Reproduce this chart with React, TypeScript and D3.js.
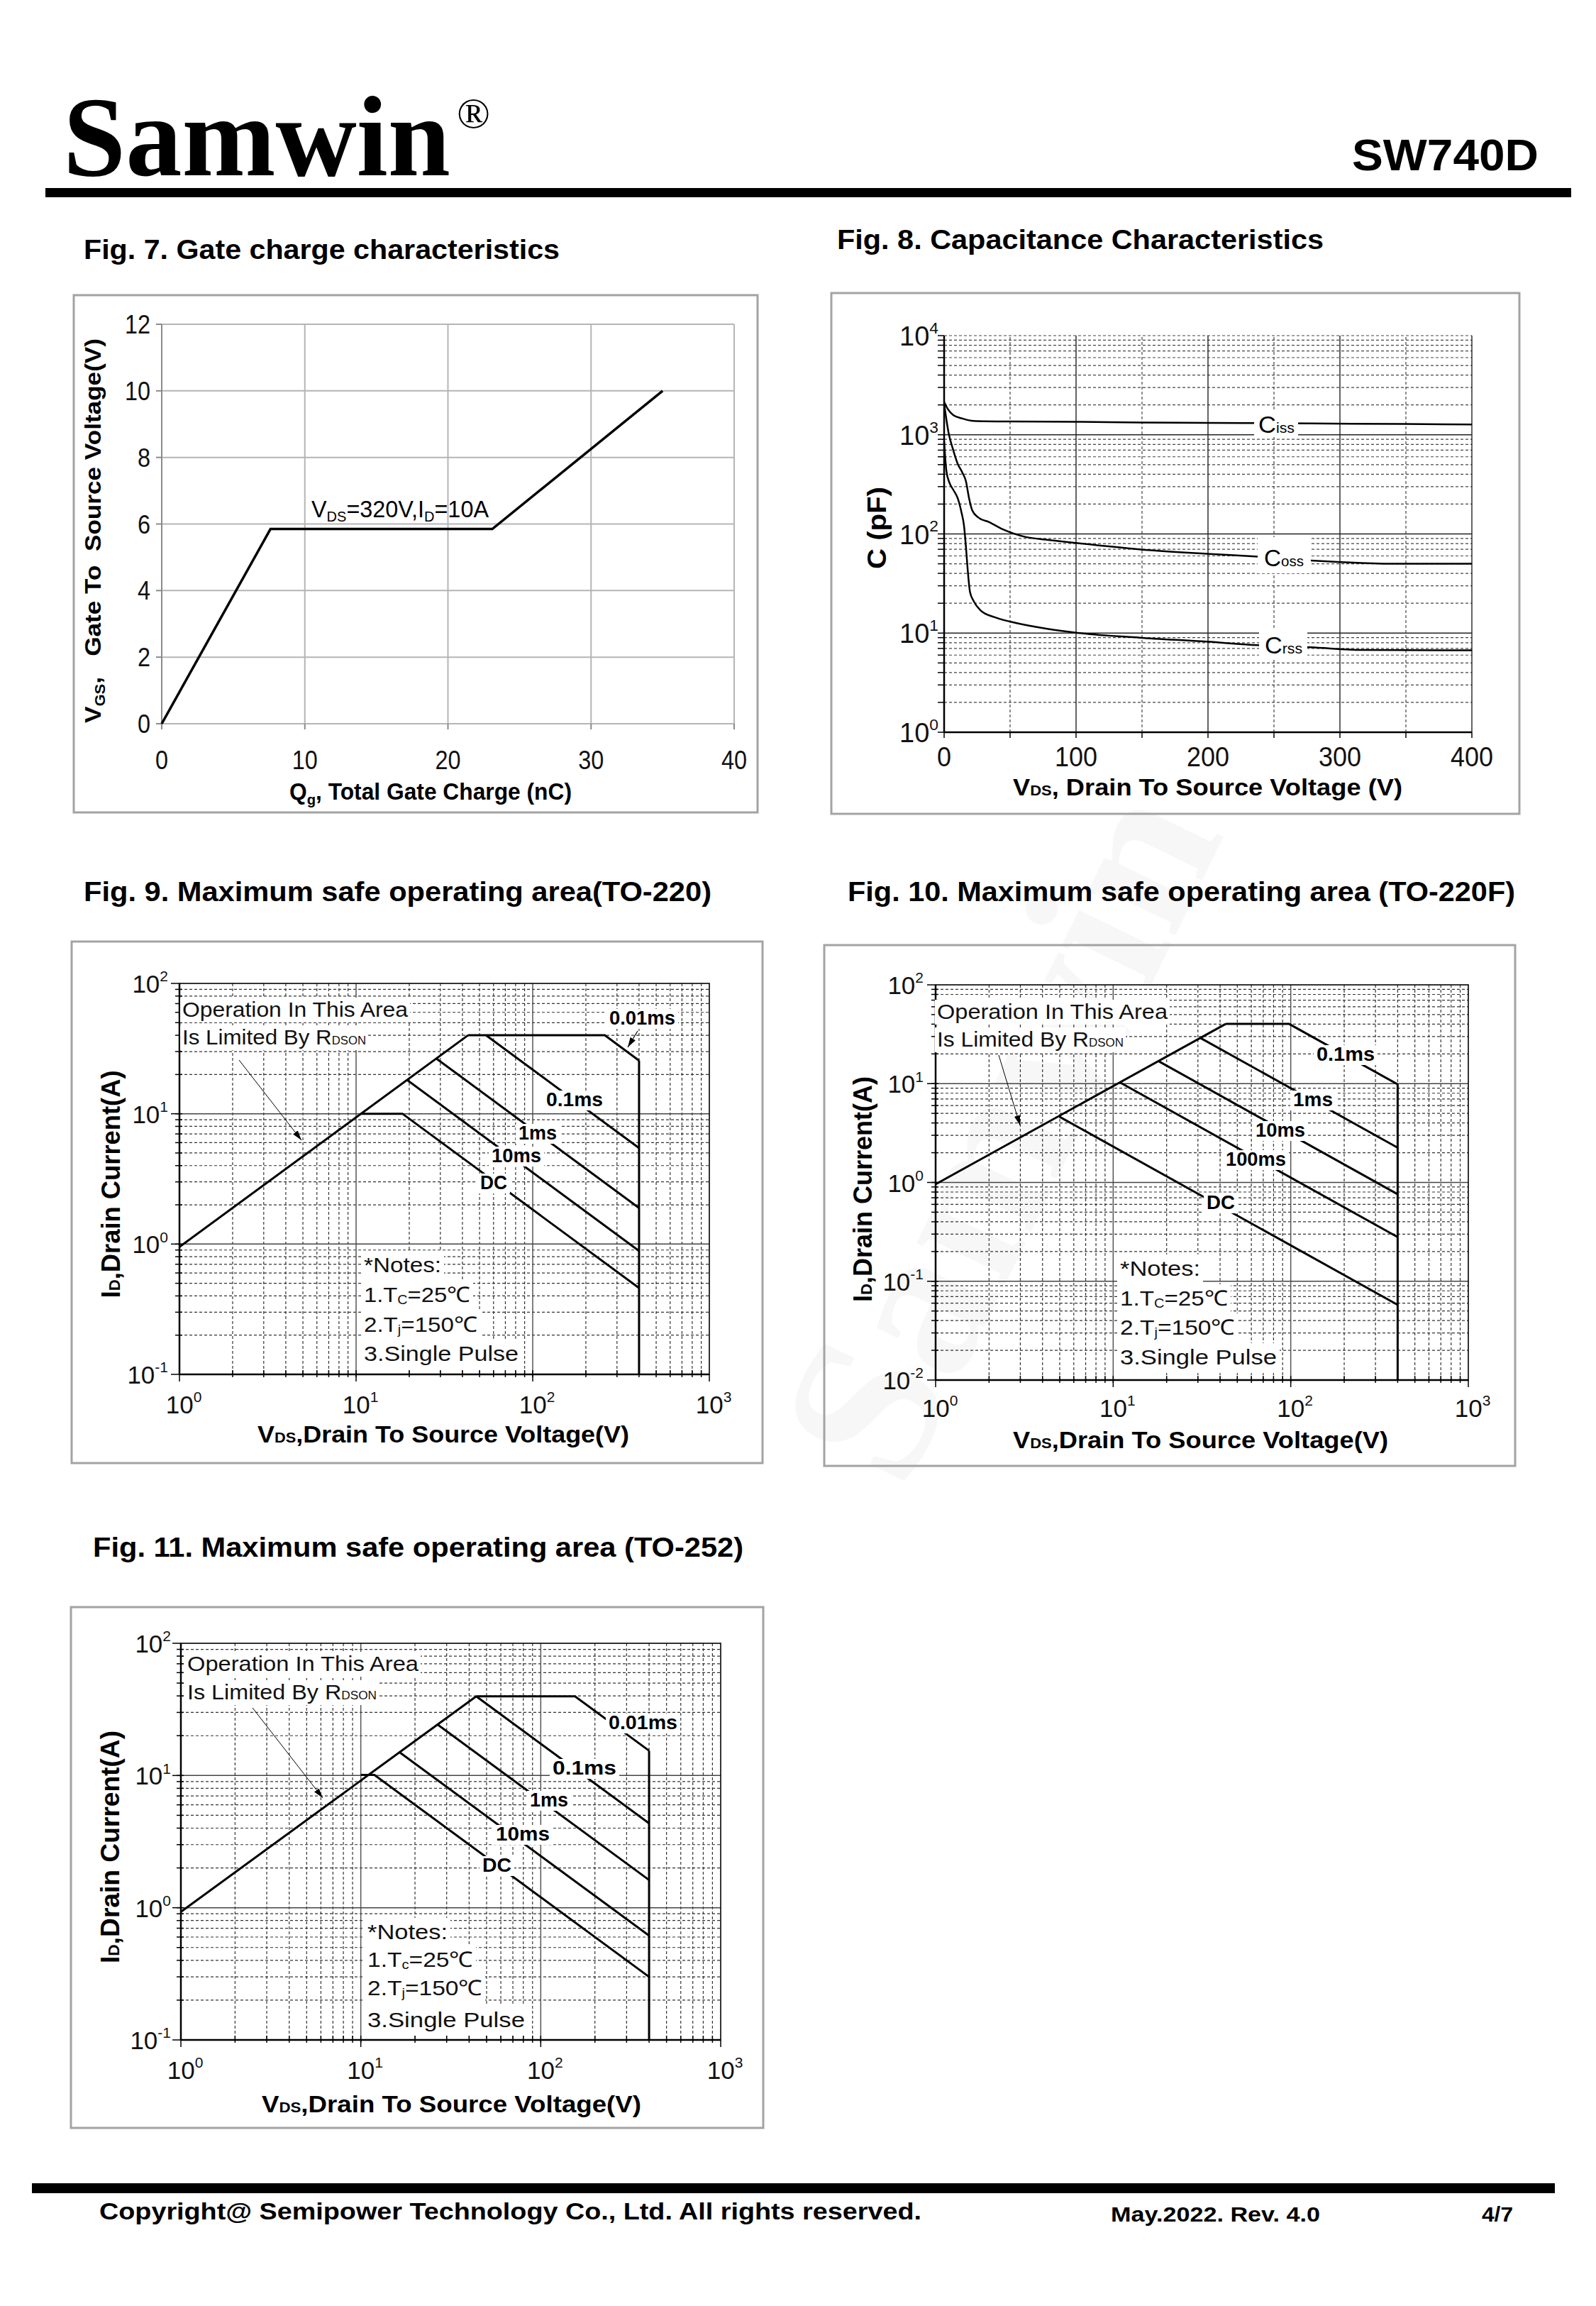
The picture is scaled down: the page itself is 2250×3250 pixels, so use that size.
import React from "react";
import * as d3 from "d3";

type P = [number, number];

const SANS = "'Liberation Sans', Arial, Helvetica, sans-serif";
const SERIF = "'Liberation Serif', 'Times New Roman', serif";

// ---------------- Fig. 7 : gate charge ----------------
const gateChargeQ = [0, 7.6, 23.1, 35];
const gateChargeV = [0, 5.85, 5.85, 10];
const fig7XTicks = [0, 10, 20, 30, 40];
const fig7YTicks = [0, 2, 4, 6, 8, 10, 12];

// ---------------- Fig. 8 : capacitance ----------------
const cissV = [0, 2.75, 6.9, 13.8, 22.4, 50, 100, 150, 200, 238, 278, 348, 400];
const cissC = [2140, 1820, 1580, 1460, 1380, 1360, 1350, 1330, 1320, 1310, 1300, 1285, 1270];
const cossV = [0, 3.4, 6.9, 10.3, 13.8, 16.5, 18.9, 21.3, 25.8, 34.4, 44.7, 62, 79, 100, 148, 199, 238, 278, 348, 400];
const cossC = [2056, 1043, 700, 509, 416, 341, 229, 173, 147, 131, 111, 93, 87, 81, 70, 63, 59, 54, 50, 50];
const crssV = [0, 1.7, 4.1, 6.9, 10.3, 13.1, 15.1, 16.5, 17.9, 19.6, 22.4, 27.5, 37.9, 51.6, 79, 100, 148, 199, 238, 278, 317, 400];
const crssC = [860, 433, 327, 279, 229, 166, 120, 75, 43, 26, 21, 17, 14.5, 12.9, 11, 10.1, 9.0, 8.2, 7.55, 7.2, 6.75, 6.7];
const fig8XTicks = [0, 100, 200, 300, 400];
const fig8XMinor = [50, 150, 250, 350];
const fig8YExp = [0, 1, 2, 3, 4];

// ---------------- Fig. 9 : SOA TO-220 ----------------
const fig9Rdson: P[] = [[1, 0.95], [43, 40]];
const fig9Ms001: P[] = [[43, 40], [256, 40], [400, 25.6]];
const fig9Ms01: P[] = [[54.7, 39.8], [400, 5.45]];
const fig9Ms1: P[] = [[28.5, 26.5], [400, 1.89]];
const fig9Ms10: P[] = [[19.4, 18.2], [400, 0.885]];
const fig9DC: P[] = [[10.7, 10], [18.3, 10], [400, 0.46]];
const fig9Limit: P[] = [[400, 25.6], [400, 0.1]];
const fig9Labels = ["0.01ms", "0.1ms", "1ms", "10ms", "DC"];

// ---------------- Fig. 10 : SOA TO-220F ----------------
const fig10Rdson: P[] = [[1, 0.96], [43, 40.2]];
const fig10Ms01: P[] = [[43, 40.2], [97.9, 40.2], [400, 9.84]];
const fig10Ms1: P[] = [[31, 29], [400, 2.25]];
const fig10Ms10: P[] = [[18.1, 16.8], [400, 0.76]];
const fig10Ms100: P[] = [[11, 10.2], [400, 0.28]];
const fig10DC: P[] = [[4.98, 4.63], [400, 0.0577]];
const fig10Limit: P[] = [[400, 9.84], [400, 0.01]];
const fig10Labels = ["0.1ms", "1ms", "10ms", "100ms", "DC"];

// ---------------- Fig. 11 : SOA TO-252 ----------------
const fig11Rdson: P[] = [[1, 0.93], [43.8, 39.7]];
const fig11Ms001: P[] = [[43.8, 39.7], [155, 39.7], [400, 15.4]];
const fig11Ms01: P[] = [[43.8, 39.7], [400, 4.35]];
const fig11Ms1: P[] = [[26.7, 24.3], [400, 1.62]];
const fig11Ms10: P[] = [[16.3, 15.1], [400, 0.615]];
const fig11DC: P[] = [[10, 10.1], [11.9, 10.1], [400, 0.3]];
const fig11Limit: P[] = [[400, 15.4], [400, 0.1]];
const fig11Labels = ["0.01ms", "0.1ms", "1ms", "10ms", "DC"];

const noteLines = ["*Notes:", "1.T", "2.T", "3.Single Pulse"];

function minors(lo: number, hi: number) {
  const out: number[] = [];
  for (let e = lo; e < hi; e++) for (let m = 2; m <= 9; m++) out.push(m * Math.pow(10, e));
  return out;
}

function T(props: any) {
  const { x, y, size, w, bold, anchor, children, rot, fill, family } = props;
  const tr = rot ? `translate(${x},${y}) rotate(${rot})` : undefined;
  return (
    <text
      x={rot ? 0 : x}
      y={rot ? 0 : y}
      transform={tr}
      fontSize={size}
      fontFamily={family || SANS}
      fontWeight={bold ? "bold" : "normal"}
      textAnchor={anchor || "start"}
      textLength={w}
      lengthAdjust={w ? "spacingAndGlyphs" : undefined}
      fill={fill || "#000"}
      style={{ whiteSpace: "pre" }}
    >
      {children}
    </text>
  );
}

function Pow({ x, y, exp, anchor, size }: any) {
  return (
    <text x={x} y={y} fontSize={size} textAnchor={anchor} fontFamily={SANS} fill="#111">
      10<tspan dy={-size * 0.45} fontSize={size * 0.6}>{exp}</tspan>
    </text>
  );
}

function Fig7() {
  const x = d3.scaleLinear().domain([0, 40]).range([228, 1035]);
  const y = d3.scaleLinear().domain([0, 12]).range([1020, 457]);
  const line = d3
    .line<number>()
    .x((d) => x(d))
    .y((_, i) => y(gateChargeV[i]));
  const grid = "#b5b5b5";
  return (
    <g>
      <rect x={104} y={416} width={964} height={729} fill="none" stroke="#a3a3a3" strokeWidth={3} />
      {fig7XTicks.filter((v) => v > 0).map((v) => (
        <line key={"gx" + v} x1={x(v)} x2={x(v)} y1={y(0)} y2={y(12)} stroke={grid} strokeWidth={2} />
      ))}
      {fig7YTicks.map((v) => (
        <line key={"gy" + v} x1={x(0)} x2={x(40)} y1={y(v)} y2={y(v)} stroke={grid} strokeWidth={2} />
      ))}
      <line x1={x(0)} x2={x(0)} y1={y(0)} y2={y(12)} stroke="#8a8a8a" strokeWidth={2} />
      {fig7YTicks.map((v) => (
        <line key={"ty" + v} x1={x(0) - 8} x2={x(0)} y1={y(v)} y2={y(v)} stroke="#8a8a8a" strokeWidth={2} />
      ))}
      {fig7XTicks.map((v) => (
        <line key={"tx" + v} x1={x(v)} x2={x(v)} y1={y(0)} y2={y(0) + 8} stroke="#8a8a8a" strokeWidth={2} />
      ))}
      <path d={line(gateChargeQ) || ""} fill="none" stroke="#000" strokeWidth={3.5} strokeLinejoin="miter" />
      {fig7YTicks.map((v) => (
        <T key={"ly" + v} x={212} y={y(v) + 13} size={37} anchor="end" fill="#111" w={String(v).length * 18}>{String(v)}</T>
      ))}
      {fig7XTicks.map((v) => (
        <T key={"lx" + v} x={x(v)} y={1084} size={37} anchor="middle" fill="#111" w={String(v).length * 18}>{String(v)}</T>
      ))}
      <T x={439} y={729} size={34} w={250}>
        V<tspan fontSize={21} dy={6}>DS</tspan>
        <tspan dy={-6}>=320V,I</tspan>
        <tspan fontSize={21} dy={6}>D</tspan>
        <tspan dy={-6}>=10A</tspan>
      </T>
      <T x={408} y={1127} size={33} bold w={398}>
        Q<tspan fontSize={21} dy={7}>g</tspan>
        <tspan dy={-7}>, Total Gate Charge (nC)</tspan>
      </T>
      <T x={142} y={748} rot={-90} size={32} bold anchor="middle" w={542}>
        V<tspan fontSize={20} dy={6}>GS</tspan>
        <tspan dy={-6}>{",   Gate To  Source Voltage(V)"}</tspan>
      </T>
    </g>
  );
}

function Fig8() {
  const x = d3.scaleLinear().domain([0, 400]).range([1331, 2075]);
  const y = d3.scaleLog().domain([1, 1e4]).range([1032, 473]);
  const mk = (vs: number[], cs: number[]) =>
    d3
      .line<number>()
      .x((d) => x(d))
      .y((_, i) => y(cs[i]))
      .curve(d3.curveMonotoneX)(vs) || "";
  const yMin = minors(0, 4);
  const dash = "4 3";
  return (
    <g>
      <rect x={1172} y={413} width={970} height={734} fill="none" stroke="#a3a3a3" strokeWidth={3} />
      {yMin.map((v) => (
        <line key={"m" + v} x1={x(0)} x2={x(400)} y1={y(v)} y2={y(v)} stroke="#444" strokeWidth={1.2} strokeDasharray={dash} />
      ))}
      <line x1={x(0)} x2={x(400)} y1={y(1e4)} y2={y(1e4)} stroke="#444" strokeWidth={1.2} strokeDasharray={dash} />
      {[10, 100, 1000].map((v) => (
        <line key={"M" + v} x1={x(0)} x2={x(400)} y1={y(v)} y2={y(v)} stroke="#222" strokeWidth={1.4} />
      ))}
      {fig8XMinor.map((v) => (
        <line key={"vx" + v} x1={x(v)} x2={x(v)} y1={y(1)} y2={y(1e4)} stroke="#444" strokeWidth={1.2} strokeDasharray={dash} />
      ))}
      {fig8XTicks.filter((v) => v > 0).map((v) => (
        <line key={"vX" + v} x1={x(v)} x2={x(v)} y1={y(1)} y2={y(1e4)} stroke="#222" strokeWidth={1.4} />
      ))}
      <line x1={x(0)} x2={x(0)} y1={y(1)} y2={y(1e4)} stroke="#000" strokeWidth={2.5} />
      <line x1={x(0)} x2={x(400)} y1={y(1)} y2={y(1)} stroke="#000" strokeWidth={2.5} />
      {[...yMin, 10, 100, 1000, 1, 1e4].map((v) => (
        <line key={"t" + v} x1={x(0) - 9} x2={x(0)} y1={y(v)} y2={y(v)} stroke="#000" strokeWidth={1.5} />
      ))}
      {[...fig8XTicks, ...fig8XMinor].map((v) => (
        <line key={"tx" + v} x1={x(v)} x2={x(v)} y1={y(1)} y2={y(1) + 8} stroke="#000" strokeWidth={1.5} />
      ))}
      <path d={mk(cissV, cissC)} fill="none" stroke="#000" strokeWidth={2.5} />
      <path d={mk(cossV, cossC)} fill="none" stroke="#000" strokeWidth={2.5} />
      <path d={mk(crssV, crssC)} fill="none" stroke="#000" strokeWidth={2.5} />
      <rect x={1768} y={580} width={62} height={36} fill="#fff" />
      <rect x={1773} y={757} width={75} height={51} fill="#fff" />
      <rect x={1775} y={886} width={68} height={44} fill="#fff" />
      <T x={1774} y={610} size={34} w={51}>C<tspan fontSize={21}>iss</tspan></T>
      <T x={1782} y={798} size={34} w={56}>C<tspan fontSize={21}>oss</tspan></T>
      <T x={1783} y={921} size={34} w={53}>C<tspan fontSize={21}>rss</tspan></T>
      {fig8YExp.map((e) => (
        <Pow key={"py" + e} x={1323} y={y(Math.pow(10, e)) + 14} exp={String(e)} anchor="end" size={38} />
      ))}
      {fig8XTicks.map((v) => (
        <T key={"lx" + v} x={x(v)} y={1080} size={38} anchor="middle" fill="#111" w={String(v).length * 20}>{String(v)}</T>
      ))}
      <T x={1428} y={1121} size={33} bold w={549}>
        V<tspan fontSize={20}>DS</tspan>
        <tspan>, Drain To Source Voltage (V)</tspan>
      </T>
      <T x={1249} y={744} rot={-90} size={37} bold anchor="middle" w={116}>C (pF)</T>
    </g>
  );
}

function SOA(p: any) {
  const [l, t, r, b] = p.plot;
  const xs = d3.scaleLog().domain([1, 1000]).range([l, r]);
  const ys = d3.scaleLog().domain([Math.pow(10, p.yLo), Math.pow(10, p.yHi)]).range([b, t]);
  const line = d3
    .line<P>()
    .x((d) => xs(d[0]))
    .y((d) => ys(d[1]));
  const xMin = minors(0, 3);
  const yMin = minors(p.yLo, p.yHi);
  const xMaj = [10, 100];
  const yMaj = d3.range(p.yLo + 1, p.yHi).map((e) => Math.pow(10, e));
  const xExp = [0, 1, 2, 3];
  const yExp = d3.range(p.yLo, p.yHi + 1);
  const dash = "4 3";
  const [fx0, fy0, fx1, fy1] = p.frame;
  return (
    <g>
      <rect x={fx0} y={fy0} width={fx1 - fx0} height={fy1 - fy0} fill="none" stroke="#a3a3a3" strokeWidth={3} />
      {xMin.map((v) => (
        <line key={"xm" + v} x1={xs(v)} x2={xs(v)} y1={t} y2={b} stroke="#333" strokeWidth={1.2} strokeDasharray={dash} />
      ))}
      {yMin.map((v) => (
        <line key={"ym" + v} x1={l} x2={r} y1={ys(v)} y2={ys(v)} stroke="#333" strokeWidth={1.2} strokeDasharray={dash} />
      ))}
      {xMaj.map((v) => (
        <line key={"xM" + v} x1={xs(v)} x2={xs(v)} y1={t} y2={b} stroke="#555" strokeWidth={1.5} />
      ))}
      {yMaj.map((v) => (
        <line key={"yM" + v} x1={l} x2={r} y1={ys(v)} y2={ys(v)} stroke="#444" strokeWidth={1.5} />
      ))}
      <rect x={l} y={t} width={r - l} height={b - t} fill="none" stroke="#000" strokeWidth={1.6} />
      <line x1={l} x2={l} y1={t} y2={b} stroke="#000" strokeWidth={2.5} />
      <line x1={l} x2={r} y1={b} y2={b} stroke="#000" strokeWidth={2.5} />
      {[...yMin, ...yMaj].map((v) => (
        <line key={"ty" + v} x1={l - 6} x2={l + 4} y1={ys(v)} y2={ys(v)} stroke="#000" strokeWidth={1.5} />
      ))}
      {yExp.map((e) => (
        <line key={"tY" + e} x1={l - 12} x2={l} y1={ys(Math.pow(10, e))} y2={ys(Math.pow(10, e))} stroke="#000" strokeWidth={1.5} />
      ))}
      {[...xMin, ...xMaj].map((v) => (
        <line key={"tx" + v} x1={xs(v)} x2={xs(v)} y1={b - 6} y2={b + 4} stroke="#000" strokeWidth={1.5} />
      ))}
      {xExp.map((e) => (
        <line key={"tX" + e} x1={xs(Math.pow(10, e))} x2={xs(Math.pow(10, e))} y1={b} y2={b + 10} stroke="#000" strokeWidth={1.5} />
      ))}
      {p.series.map((s: P[], i: number) => (
        <path key={"s" + i} d={line(s) || ""} fill="none" stroke="#000" strokeWidth={3} strokeLinejoin="miter" />
      ))}
      {/* RDSON annotation */}
      <rect x={p.rdsonX - 3} y={p.rdsonY1 - 27} width={p.rdsonW1 + 6} height={35} fill="#fff" />
      <rect x={p.rdsonX - 3} y={p.rdsonY2 - 27} width={p.rdsonW2 + 6} height={35} fill="#fff" />
      <T x={p.rdsonX} y={p.rdsonY1} size={30} w={p.rdsonW1} fill="#111">Operation In This Area</T>
      <T x={p.rdsonX} y={p.rdsonY2} size={30} w={p.rdsonW2} fill="#111">
        Is Limited By R<tspan fontSize={16}>DSON</tspan>
      </T>
      <line x1={p.rdsonArrow[0]} y1={p.rdsonArrow[1]} x2={p.rdsonArrow[2]} y2={p.rdsonArrow[3]} stroke="#000" strokeWidth={1} markerEnd="url(#arr)" />
      {p.arrow01 ? (
        <line x1={p.arrow01[0]} y1={p.arrow01[1]} x2={p.arrow01[2]} y2={p.arrow01[3]} stroke="#000" strokeWidth={1.2} markerEnd="url(#arr)" />
      ) : null}
      {/* curve labels */}
      {p.labels.map((lb: any, i: number) => (
        <rect key={"lr" + i} x={lb.x - 4} y={lb.y - 22} width={lb.w + 8} height={28} fill="#fff" />
      ))}
      {p.labels.map((lb: any, i: number) => (
        <T key={"lt" + i} x={lb.x} y={lb.y} size={27} bold w={lb.w}>{p.labelText[i]}</T>
      ))}
      {/* notes */}
      {p.notesY.map((ny: number, i: number) => (
        <rect key={"nr" + i} x={p.notesX - 4} y={ny - 30} width={p.notesW[i] + 8} height={42} fill="#fff" />
      ))}
      <T x={p.notesX} y={p.notesY[0]} size={30} w={p.notesW[0]} fill="#111">{noteLines[0]}</T>
      <T x={p.notesX} y={p.notesY[1]} size={30} w={p.notesW[1]} fill="#111">
        {noteLines[1]}<tspan fontSize={18} dy={3}>{p.tcSub}</tspan>
        <tspan dy={-3}>=25℃</tspan>
      </T>
      <T x={p.notesX} y={p.notesY[2]} size={30} w={p.notesW[2]} fill="#111">
        {noteLines[2]}<tspan fontSize={18} dy={3}>j</tspan>
        <tspan dy={-3}>=150℃</tspan>
      </T>
      <T x={p.notesX} y={p.notesY[3]} size={30} w={p.notesW[3]} fill="#111">{noteLines[3]}</T>
      {/* tick labels */}
      {yExp.map((e) => (
        <Pow key={"py" + e} x={p.yLabelRight} y={ys(Math.pow(10, e)) + 13} exp={String(e)} anchor="end" size={35} />
      ))}
      {xExp.map((e) => (
        <Pow key={"px" + e} x={xs(Math.pow(10, e)) + 6} y={p.xLabelBase} exp={String(e)} anchor="middle" size={35} />
      ))}
      <T x={p.xTitle.x} y={p.xTitle.y} size={33} bold w={p.xTitle.w}>
        V<tspan fontSize={20}>DS</tspan>
        <tspan>,Drain To Source Voltage(V)</tspan>
      </T>
      <T x={p.yTitle.x} y={p.yTitle.y} rot={-90} size={36} bold anchor="middle" w={p.yTitle.w}>
        I<tspan fontSize={22}>D</tspan>
        <tspan>,Drain Current(A)</tspan>
      </T>
    </g>
  );
}

export default function App() {
  return (
    <svg
      width={2250}
      height={3250}
      viewBox="0 0 2250 3250"
      style={{ position: "absolute", left: 0, top: 0, display: "block" }}
      fontFamily={SANS}
    >
      <defs>
        <marker id="arr" viewBox="0 0 10 10" refX="10" refY="5" markerWidth="14" markerHeight="14" markerUnits="userSpaceOnUse" orient="auto">
          <path d="M0,2 L10,5 L0,8 z" fill="#000" />
        </marker>
      </defs>
      <rect x={0} y={0} width={2250} height={3250} fill="#fff" />
      {/* faint watermark */}
      <T x={1500} y={1640} rot={-64} size={300} bold anchor="middle" family={SERIF} fill="#f7f7f7">Samwin</T>

      {/* header */}
      <T x={89} y={247} size={160} bold family={SERIF} w={546}>Samwin</T>
      <T x={644} y={180} size={62} family={SERIF}>®</T>
      <T x={1906} y={240} size={63} bold w={263}>SW740D</T>
      <rect x={64} y={265} width={2151} height={13} fill="#000" />

      {/* titles */}
      <T x={118} y={365} size={39} bold w={671}>Fig. 7. Gate charge characteristics</T>
      <T x={1180} y={351} size={39} bold w={686}>Fig. 8. Capacitance Characteristics</T>
      <T x={118} y={1270} size={39} bold w={885}>Fig. 9. Maximum safe operating area(TO-220)</T>
      <T x={1195} y={1270} size={39} bold w={941}>Fig. 10. Maximum safe operating area (TO-220F)</T>
      <T x={131} y={2194} size={39} bold w={917}>Fig. 11. Maximum safe operating area (TO-252)</T>

      <Fig7 />
      <Fig8 />

      <SOA
        frame={[101, 1327, 1075, 2062]}
        plot={[253, 1386, 1000, 1937]}
        yLo={-1}
        yHi={2}
        series={[fig9Rdson, fig9Ms001, fig9Ms01, fig9Ms1, fig9Ms10, fig9DC, fig9Limit]}
        labelText={fig9Labels}
        labels={[
          { x: 859, y: 1444, w: 93 },
          { x: 770, y: 1559, w: 80 },
          { x: 731, y: 1606, w: 54 },
          { x: 693, y: 1638, w: 70 },
          { x: 677, y: 1676, w: 38 },
        ]}
        arrow01={[899, 1453, 885, 1476]}
        rdsonX={257}
        rdsonY1={1433}
        rdsonY2={1472}
        rdsonW1={318}
        rdsonW2={259}
        rdsonArrow={[337, 1494, 425, 1607]}
        notesX={513}
        notesY={[1793, 1835, 1877, 1918]}
        notesW={[109, 150, 160, 218]}
        tcSub="C"
        yLabelRight={237}
        xLabelBase={1992}
        xTitle={{ x: 363, y: 2033, w: 524 }}
        yTitle={{ x: 169, y: 1669, w: 321 }}
      />
      <SOA
        frame={[1162, 1332, 2136, 2066]}
        plot={[1319, 1388, 2070, 1945]}
        yLo={-2}
        yHi={2}
        series={[fig10Rdson, fig10Ms01, fig10Ms1, fig10Ms10, fig10Ms100, fig10DC, fig10Limit]}
        labelText={fig10Labels}
        labels={[
          { x: 1856, y: 1495, w: 82 },
          { x: 1823, y: 1559, w: 56 },
          { x: 1770, y: 1602, w: 70 },
          { x: 1728, y: 1643, w: 85 },
          { x: 1701, y: 1704, w: 40 },
        ]}
        rdsonX={1321}
        rdsonY1={1436}
        rdsonY2={1475}
        rdsonW1={325}
        rdsonW2={263}
        rdsonArrow={[1408, 1487, 1438, 1586]}
        notesX={1579}
        notesY={[1798, 1840, 1881, 1923]}
        notesW={[113, 152, 162, 221]}
        tcSub="C"
        yLabelRight={1302}
        xLabelBase={1997}
        xTitle={{ x: 1428, y: 2041, w: 529 }}
        yTitle={{ x: 1229, y: 1676, w: 318 }}
      />
      <SOA
        frame={[100, 2265, 1076, 2999]}
        plot={[255, 2316, 1016, 2875]}
        yLo={-1}
        yHi={2}
        series={[fig11Rdson, fig11Ms001, fig11Ms01, fig11Ms1, fig11Ms10, fig11DC, fig11Limit]}
        labelText={fig11Labels}
        labels={[
          { x: 858, y: 2437, w: 97 },
          { x: 779, y: 2501, w: 90 },
          { x: 747, y: 2546, w: 54 },
          { x: 699, y: 2594, w: 76 },
          { x: 680, y: 2638, w: 41 },
        ]}
        rdsonX={264}
        rdsonY1={2355}
        rdsonY2={2395}
        rdsonW1={326}
        rdsonW2={267}
        rdsonArrow={[356, 2407, 455, 2534]}
        notesX={518}
        notesY={[2733, 2772, 2812, 2857]}
        notesW={[113, 149, 162, 222]}
        tcSub="c"
        yLabelRight={241}
        xLabelBase={2930}
        xTitle={{ x: 369, y: 2977, w: 535 }}
        yTitle={{ x: 168, y: 2603, w: 328 }}
      />

      {/* footer */}
      <rect x={45} y={3077} width={2147} height={14} fill="#000" />
      <T x={140} y={3128} size={34} bold w={1159}>Copyright@ Semipower Technology Co., Ltd. All rights reserved.</T>
      <T x={1566} y={3131} size={29} bold w={295}>May.2022. Rev. 4.0</T>
      <T x={2089} y={3131} size={29} bold w={44}>4/7</T>
    </svg>
  );
}
